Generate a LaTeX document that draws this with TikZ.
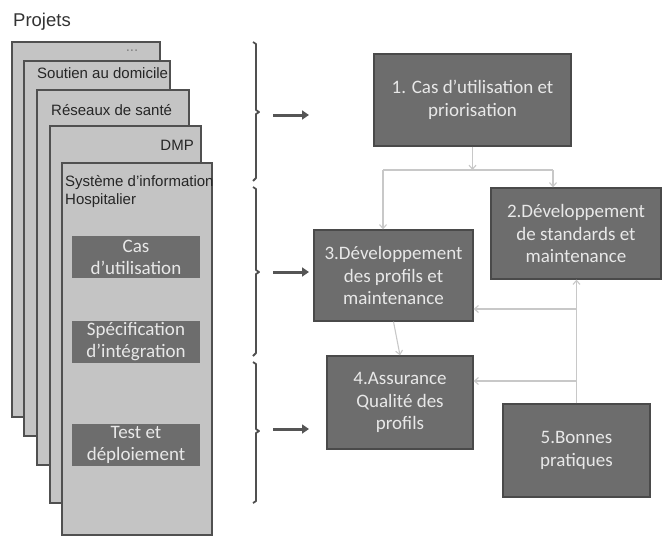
\documentclass[tikz,border=0pt]{standalone}
\usepackage{fontspec}
\setmainfont{Carlito}
\newfontfamily\arialf{Liberation Sans}
\usetikzlibrary{arrows.meta}
\definecolor{cardfill}{HTML}{C4C4C4}
\definecolor{cardline}{HTML}{505050}
\definecolor{boxfill}{HTML}{6D6D6D}
\definecolor{boxline}{HTML}{4A4A4A}
\definecolor{boxtext}{HTML}{E8E8E8}
\definecolor{connline}{HTML}{C8C8C8}
\definecolor{darkarrow}{HTML}{555555}
\tikzset{
  card/.style={draw=cardline, line width=1.9pt, fill=cardfill, inner sep=0pt},
  darkbox/.style={draw=boxline, line width=1.3pt, fill=boxfill, text=boxtext, align=center,
    font=\fontsize{19}{22.5}\selectfont, inner sep=0pt},
  innerbox/.style={fill=boxfill, text=boxtext, align=center,
    font=\fontsize{19}{22}\selectfont, inner sep=0pt, minimum width=128pt, minimum height=42pt},
  cardlabel/.style={font=\arialf\fontsize{15}{18}\selectfont, text=black!85, inner sep=0pt},
  conn/.style={draw=connline, line width=1.1pt, -{Straight Barb[length=4pt,width=7pt]}},
  connplain/.style={draw=connline, line width=1.1pt},
  bigarrow/.style={draw=darkarrow, line width=3pt, -{Triangle[length=7pt,width=9pt]}},
  bracket/.style={draw=cardline, line width=1.8pt, line join=round}
}
\begin{document}
\begin{tikzpicture}[x=1pt,y=-1pt]
\useasboundingbox (0,0) rectangle (664,538);
% title
\node[font=\arialf\fontsize{18.5}{22}\selectfont, text=black!80, anchor=west, inner sep=0pt] (title) at (13,22) {Projets};
% stacked cards
\node[card, minimum width=148pt, minimum height=375pt] (c1) at (86,229.5) {};
\node[card, minimum width=146pt, minimum height=375pt] (c2) at (97,248.5) {};
\node[card, minimum width=152pt, minimum height=375pt] (c3) at (113,277.5) {};
\node[card, minimum width=151pt, minimum height=377pt] (c4) at (125.5,314.5) {};
\node[card, minimum width=150pt, minimum height=372pt] (c5) at (137,349) {};
\node[cardlabel, text=black!50, anchor=center] (l1) at (132,51) {...};
\node[cardlabel, anchor=west] (l2) at (37,73) {Soutien au domicile};
\node[cardlabel, anchor=west] (l3) at (51,110) {Réseaux de santé};
\node[cardlabel, anchor=east] (l4) at (194,145) {DMP};
\node[cardlabel, anchor=north west, align=left] (l5) at (65,175) {Système d’information\\Hospitalier};
% inner boxes
\node[innerbox] (i1) at (136,257) {Cas\\d’utilisation};
\node[innerbox] (i2) at (136,342) {Spécification\\d’intégration};
\node[innerbox] (i3) at (136,445) {Test et\\déploiement};
% brackets
\draw[bracket] (253,42) -- (256,44) -- (256,110) -- (259,112) -- (256,114) -- (256,178) -- (253,181);
\draw[bracket] (253,187) -- (256,189) -- (256,270) -- (259,272) -- (256,274) -- (256,353) -- (253,356);
\draw[bracket] (253,362) -- (256,364) -- (256,429) -- (259,431) -- (256,433) -- (256,501) -- (253,503);
% arrows from brackets
\coordinate (a1s) at (273,115); \coordinate (a1e) at (309,115);
\coordinate (a2s) at (273,272); \coordinate (a2e) at (309,272);
\coordinate (a3s) at (273,429); \coordinate (a3e) at (309,429);
\draw[bigarrow] (a1s) -- (a1e);
\draw[bigarrow] (a2s) -- (a2e);
\draw[bigarrow] (a3s) -- (a3e);
% process boxes
\node[darkbox, minimum width=197pt, minimum height=92pt] (b1) at (472.5,100) {1. Cas d’utilisation et\\priorisation};
\node[darkbox, minimum width=170pt, minimum height=91pt] (b2) at (576,233.5) {2.Développement\\de standards et\\maintenance};
\node[darkbox, minimum width=159pt, minimum height=91pt] (b3) at (393.5,275.5) {3.Développement\\des profils et\\maintenance};
\node[darkbox, minimum width=146pt, minimum height=93pt] (b4) at (400,402.5) {4.Assurance\\Qualité des\\profils};
\node[darkbox, minimum width=147pt, minimum height=93pt] (b5) at (576.5,450.5) {5.Bonnes\\pratiques};
% connectors
\coordinate (jm) at (472.5,170);
\coordinate (jl) at (383,170);
\coordinate (jr) at (553,170);
\draw[conn] (b1.south) -- (jm);
\draw[connplain] (jl) -- (jr);
\draw[conn] (jl) -- (jl |- b3.north);
\draw[conn] (jr) -- (jr |- b2.north);
\draw[conn] (b3.south) -- (b4.north);
\coordinate (v1) at (576.5,309);
\coordinate (v2) at (576.5,381);
\draw[conn] (b5.north) -- (b5.north |- b2.south);
\draw[conn] (v1) -- (v1 -| b3.east);
\draw[conn] (v2) -- (v2 -| b4.east);
\end{tikzpicture}
\end{document}
